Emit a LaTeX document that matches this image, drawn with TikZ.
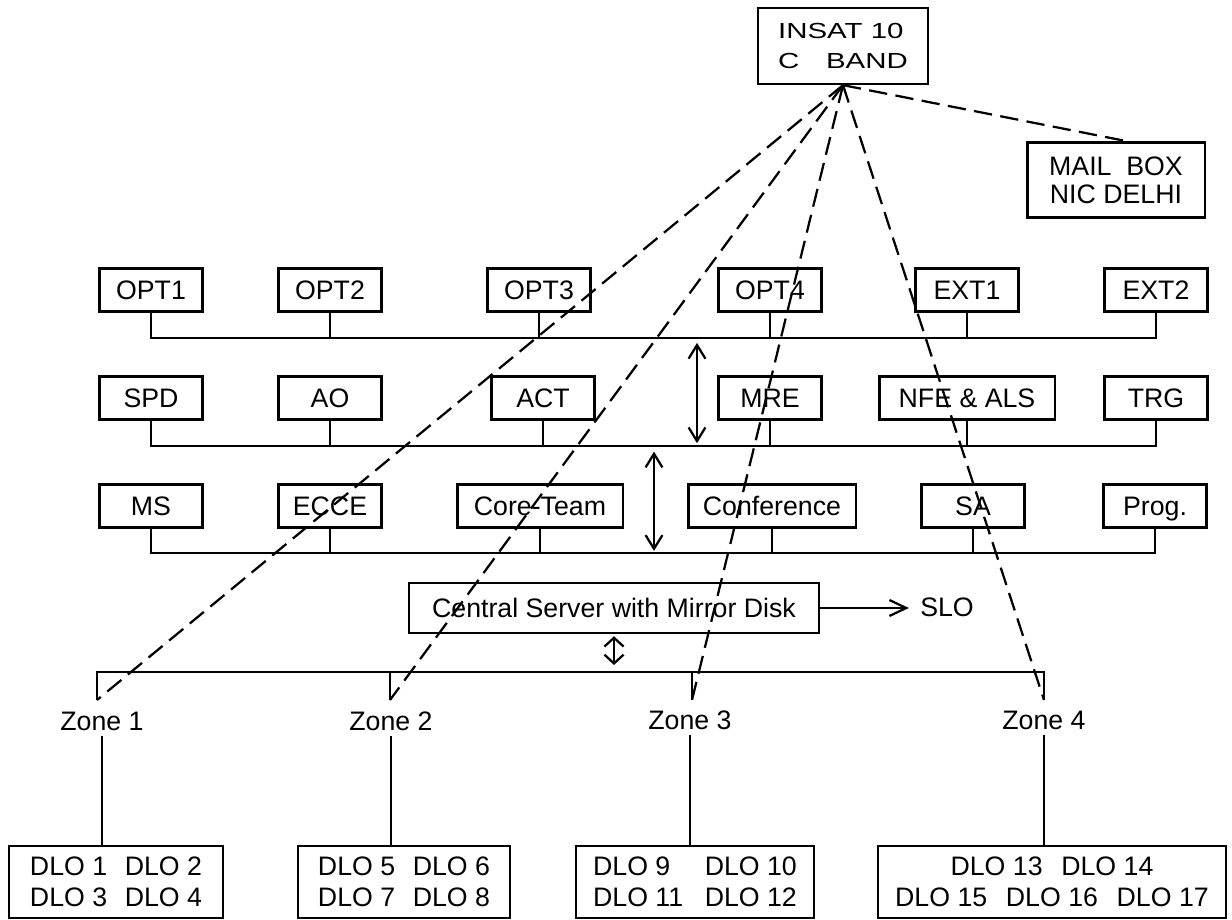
\documentclass[tikz,border=0pt]{standalone}
\usepackage{fontspec}
\setmainfont{Liberation Sans}
\newfontfamily\widefont[FakeStretch=1.35]{Liberation Sans}
\usepackage{tikz}
\usetikzlibrary{arrows.meta, calc}

\begin{document}
\begin{tikzpicture}[
  x=0.025cm, y=-0.025cm,
  font=\fontsize{19}{22}\selectfont,
  line width=1.6pt,
  unit/.style={draw, minimum width=2.58cm, minimum height=1.07cm,
    inner sep=0pt, text height=13.6pt, text depth=0pt},
  dlo/.style={draw, minimum height=1.8cm, inner sep=0pt, align=center},
  link/.style={dash pattern=on 13pt off 6pt},
  updown/.style={{Straight Barb[length=0.34cm, width=0.42cm]}-{Straight Barb[length=0.34cm, width=0.42cm]}},
  updownsmall/.style={{Straight Barb[length=0.22cm, width=0.48cm]}-{Straight Barb[length=0.22cm, width=0.48cm]}},
  tip/.style={-{Straight Barb[length=0.42cm, width=0.4cm]}}
]
  \useasboundingbox (0,0) rectangle (1232,920);

  \node[draw, minimum width=4.25cm, minimum height=1.9cm, align=left,
    font=\widefont\fontsize{15.5}{21.3}\selectfont] (insat) at (843,46)
    {INSAT 10\\C\hspace{19pt}BAND};
  \node[draw, minimum width=4.43cm, minimum height=1.88cm, align=center,
    font=\fontsize{19}{20}\selectfont] (mail) at (1116,180)
    {MAIL\ \ BOX\\NIC DELHI};

  \node[unit] (opt1) at (151,290) {OPT1};
  \node[unit] (opt2) at (330,290) {OPT2};
  \node[unit] (opt3) at (539,290) {OPT3};
  \node[unit] (opt4) at (770,290) {OPT4};
  \node[unit] (ext1) at (967,290) {EXT1};
  \node[unit] (ext2) at (1156,290) {EXT2};

  \node[unit] (spd) at (151,398) {SPD};
  \node[unit] (ao) at (330,398) {AO};
  \node[unit] (act) at (543,398) {ACT};
  \node[unit] (mre) at (770,398) {MRE};
  \node[unit, minimum width=4.38cm] (nfe) at (967,398) {NFE \& ALS};
  \node[unit] (trg) at (1156,398) {TRG};

  \node[unit] (ms) at (151,506) {MS};
  \node[unit] (ecce) at (330,506) {ECCE};
  \node[unit, minimum width=4.13cm] (core) at (540,506) {Core-Team};
  \node[unit, minimum width=4.18cm] (conf) at (772,506) {Conference};
  \node[unit] (sa) at (973,506) {SA};
  \node[unit] (prog) at (1155,506) {Prog.};

  \coordinate (bus1) at (0,338);
  \coordinate (bus2) at (0,446);
  \coordinate (bus3) at (0,553);
  \draw (opt1.south) |- (ext2.south |- bus1) -- (ext2.south);
  \draw (spd.south) |- (trg.south |- bus2) -- (trg.south);
  \draw (ms.south) |- (prog.south |- bus3) -- (prog.south);
  \foreach \n/\b in {opt2/bus1,opt3/bus1,opt4/bus1,ext1/bus1,ao/bus2,act/bus2,mre/bus2,nfe/bus2,ecce/bus3,core/bus3,conf/bus3,sa/bus3}
    \draw (\n.south) -- (\n.south |- \b);

  \coordinate (ua) at (697,338);
  \coordinate (ub) at (654,446);
  \draw[updown, shorten <=3.5pt, shorten >=2pt] (ua) -- (ua |- bus2);
  \draw[updown, shorten <=4pt, shorten >=1.5pt] (ub) -- (ub |- bus3);

  \node[draw, minimum width=10.25cm, minimum height=1.25cm, inner sep=0pt] (srv) at (614,608)
    {Central Server with Mirror Disk};
  \node (slo) at (947,607) {SLO};
  \draw[tip, shorten >=4pt] (srv.east) -- (srv.east -| slo.west);

  \coordinate (zbus) at (0,672);
  \coordinate (t1) at (97,700);
  \coordinate (t2) at (390,700);
  \coordinate (t3) at (692,700);
  \coordinate (t4) at (1044,700);
  \draw[updownsmall, shorten <=1.5pt, shorten >=5pt] (srv.south) -- (srv.south |- zbus);
  \draw (t1) -- (t1 |- zbus) -- (t4 |- zbus) -- (t4);
  \draw (t2) -- (t2 |- zbus) (t3) -- (t3 |- zbus);

  \foreach \t in {t1,t2,t3,t4}
    \draw[link] (insat.south) -- (\t);
  \draw[link] (insat.south) -- ([xshift=0.28cm]mail.north);

  \node (z1) at (102,721) {Zone 1};
  \node (z2) at (391,721) {Zone 2};
  \node (z3) at (690,720) {Zone 3};
  \node (z4) at (1044,720) {Zone 4};

  \node[dlo, minimum width=5.33cm] (d1) at (116,882)
    {\makebox[3.55em][l]{DLO 1}DLO 2\\\makebox[3.55em][l]{DLO 3}DLO 4};
  \node[dlo, minimum width=5.3cm] (d2) at (404,882)
    {\makebox[3.55em][l]{DLO 5}DLO 6\\\makebox[3.55em][l]{DLO 7}DLO 8};
  \node[dlo, minimum width=5.93cm] (d3) at (695,882)
    {\makebox[4.18em][l]{DLO 9}DLO 10\\\makebox[4.18em][l]{DLO 11}DLO 12};
  \node[dlo, minimum width=8.7cm] (d4) at (1052,882)
    {DLO 13\hspace{0.7em}DLO 14\\DLO 15\hspace{0.7em}DLO 16\hspace{0.7em}DLO 17};

  \foreach \z/\d in {z1/d1,z2/d2,z3/d3,z4/d4}
    \draw (\z.south) -- (\z.south |- \d.north);
\end{tikzpicture}
\end{document}
